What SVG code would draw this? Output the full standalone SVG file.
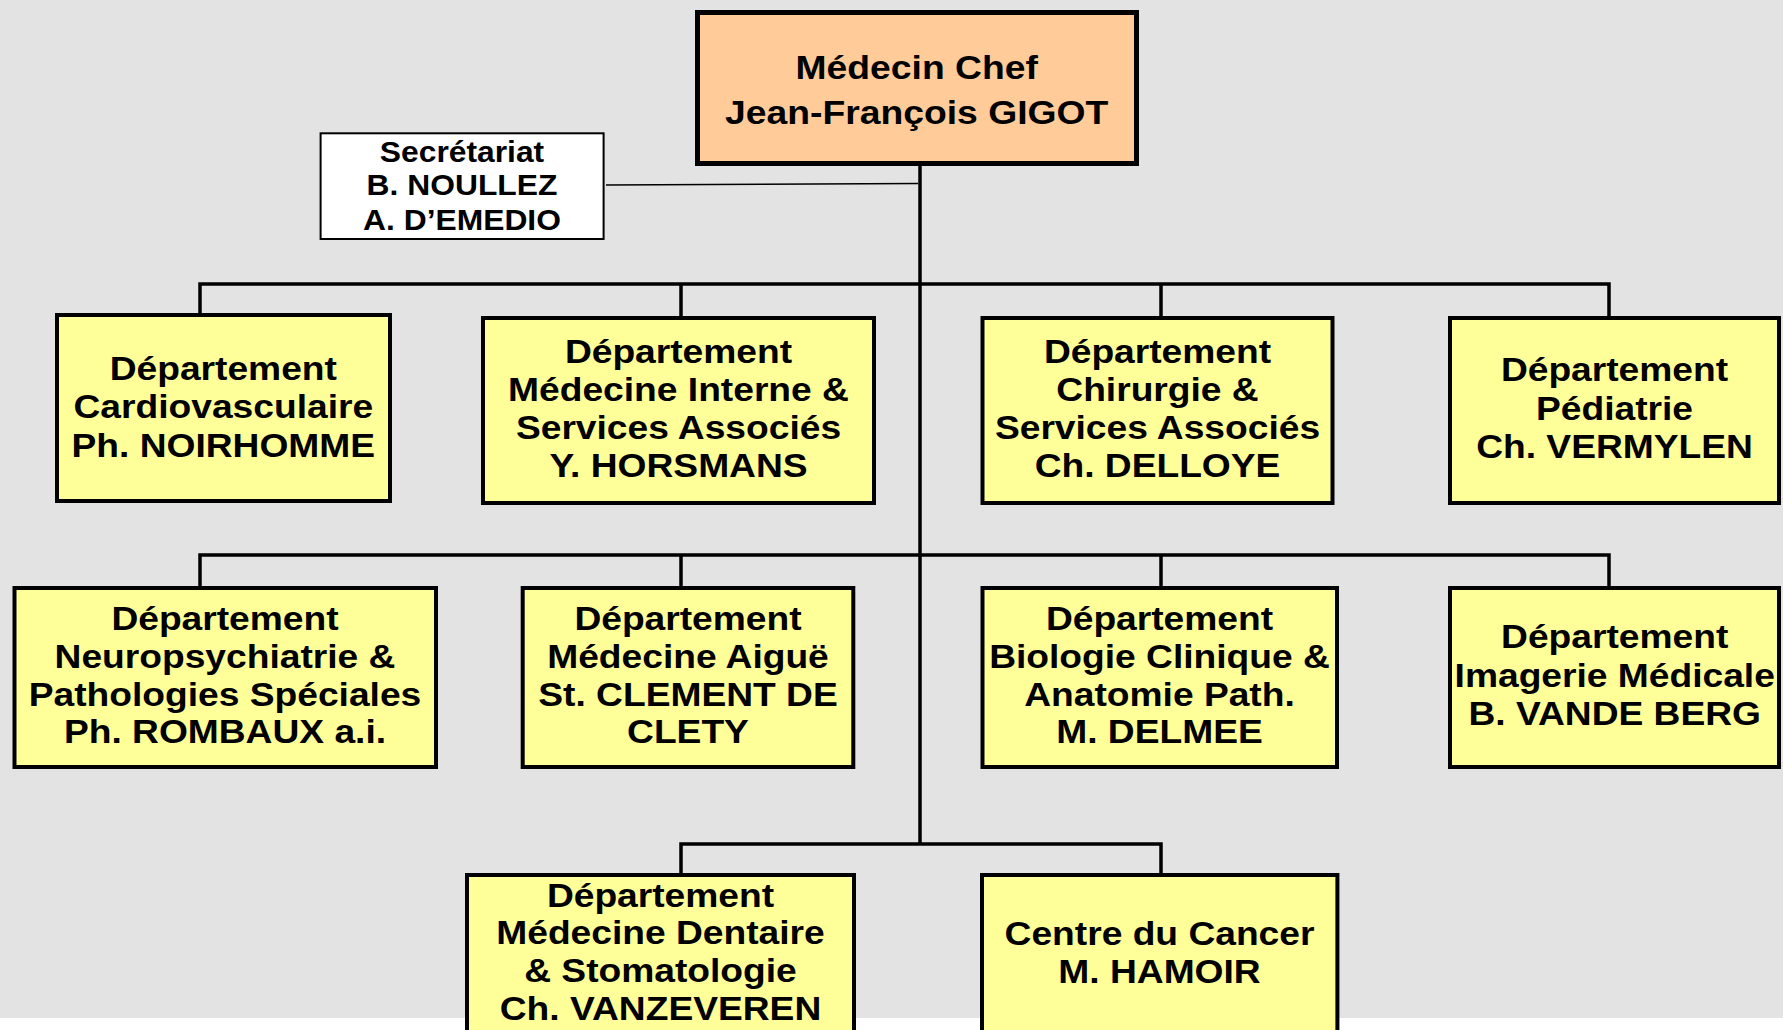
<svg xmlns="http://www.w3.org/2000/svg" width="1783" height="1030" viewBox="0 0 1783 1030">
<style>
.bg{fill:#E3E3E3}
.dept{fill:#FFFF99;stroke:#000;stroke-width:4}
.chief{fill:#FFCC99;stroke:#000;stroke-width:5}
.sec{fill:#FFFFFF;stroke:#000;stroke-width:2}
.ln{fill:none;stroke:#000;stroke-width:3.5}
.thin{fill:none;stroke:#000;stroke-width:1.6}
text{font-family:"Liberation Sans",Arial,sans-serif;font-weight:bold;fill:#000;text-anchor:middle}
.t{font-size:33.5px}
.tc{font-size:33px}
.ts{font-size:30px}
</style>
<rect x="0" y="0" width="1783" height="1030" fill="#FFFFFF"/>
<rect class="bg" x="0" y="0" width="1783" height="1018"/>

<g id="connectors">
  <line class="thin" x1="606" y1="185" x2="918" y2="183.5"/>
  <line class="ln" x1="920" y1="165" x2="920" y2="844"/>
  <polyline class="ln" points="200,314 200,284 1609,284 1609,317"/>
  <line class="ln" x1="681" y1="284" x2="681" y2="317"/>
  <line class="ln" x1="1161" y1="284" x2="1161" y2="317"/>
  <polyline class="ln" points="200,587 200,555 1609,555 1609,587"/>
  <line class="ln" x1="681" y1="555" x2="681" y2="587"/>
  <line class="ln" x1="1161" y1="555" x2="1161" y2="587"/>
  <polyline class="ln" points="681,874 681,844 1161,844 1161,874"/>
</g>

<g id="chief">
  <rect class="chief" x="697.5" y="12.5" width="439" height="151"/>
  <text class="tc" transform="matrix(1.13 0 0 1 916.7 0)"><tspan x="0" y="79">Médecin Chef</tspan><tspan x="0" y="124">Jean-François GIGOT</tspan></text>
</g>

<g id="secretariat">
  <rect class="sec" x="320.6" y="133.3" width="283" height="105.7"/>
  <text class="ts" transform="matrix(1.06 0 0 1 462 0)"><tspan x="0" y="161.7">Secrétariat</tspan><tspan x="0" y="195">B. NOULLEZ</tspan><tspan x="0" y="230">A. D’EMEDIO</tspan></text>
</g>

<g id="cardio">
  <rect class="dept" x="57" y="315" width="333" height="186"/>
  <text class="t" transform="matrix(1.11 0 0 1 223.3 0)"><tspan x="0" y="380">Département</tspan><tspan x="0" y="418.3">Cardiovasculaire</tspan><tspan x="0" y="456.7">Ph. NOIRHOMME</tspan></text>
</g>

<g id="medecine-interne">
  <rect class="dept" x="483" y="318" width="391" height="185"/>
  <text class="t" transform="matrix(1.11 0 0 1 678.5 0)"><tspan x="0" y="362.7">Département</tspan><tspan x="0" y="401">Médecine Interne &amp;</tspan><tspan x="0" y="439.3">Services Associés</tspan><tspan x="0" y="477">Y. HORSMANS</tspan></text>
</g>

<g id="chirurgie">
  <rect class="dept" x="982.5" y="318" width="350" height="185"/>
  <text class="t" transform="matrix(1.11 0 0 1 1157.5 0)"><tspan x="0" y="362.7">Département</tspan><tspan x="0" y="401">Chirurgie &amp;</tspan><tspan x="0" y="439.3">Services Associés</tspan><tspan x="0" y="477">Ch. DELLOYE</tspan></text>
</g>

<g id="pediatrie">
  <rect class="dept" x="1450" y="318" width="329" height="185"/>
  <text class="t" transform="matrix(1.11 0 0 1 1614.5 0)"><tspan x="0" y="381">Département</tspan><tspan x="0" y="419.7">Pédiatrie</tspan><tspan x="0" y="458.3">Ch. VERMYLEN</tspan></text>
</g>

<g id="neuropsychiatrie">
  <rect class="dept" x="14.5" y="588" width="421.5" height="179"/>
  <text class="t" transform="matrix(1.11 0 0 1 225 0)"><tspan x="0" y="630">Département</tspan><tspan x="0" y="667.8">Neuropsychiatrie &amp;</tspan><tspan x="0" y="705.6">Pathologies Spéciales</tspan><tspan x="0" y="743.4">Ph. ROMBAUX a.i.</tspan></text>
</g>

<g id="medecine-aigue">
  <rect class="dept" x="522.7" y="588" width="330.6" height="179"/>
  <text class="t" transform="matrix(1.11 0 0 1 688 0)"><tspan x="0" y="630">Département</tspan><tspan x="0" y="667.8">Médecine Aiguë</tspan><tspan x="0" y="705.6">St. CLEMENT DE</tspan><tspan x="0" y="743.4">CLETY</tspan></text>
</g>

<g id="biologie">
  <rect class="dept" x="982.5" y="588" width="354.5" height="179"/>
  <text class="t" transform="matrix(1.11 0 0 1 1159.5 0)"><tspan x="0" y="630">Département</tspan><tspan x="0" y="667.8">Biologie Clinique &amp;</tspan><tspan x="0" y="705.6">Anatomie Path.</tspan><tspan x="0" y="743.4">M. DELMEE</tspan></text>
</g>

<g id="imagerie">
  <rect class="dept" x="1450" y="588" width="329" height="179"/>
  <text class="t" transform="matrix(1.11 0 0 1 1614.7 0)"><tspan x="0" y="648.5">Département</tspan><tspan x="0" y="686.8">Imagerie Médicale</tspan><tspan x="0" y="725">B. VANDE BERG</tspan></text>
</g>

<g id="dentaire">
  <rect class="dept" x="467" y="875" width="387" height="200"/>
  <text class="t" transform="matrix(1.11 0 0 1 660.5 0)"><tspan x="0" y="906.7">Département</tspan><tspan x="0" y="944.4">Médecine Dentaire</tspan><tspan x="0" y="982.1">&amp; Stomatologie</tspan><tspan x="0" y="1019.8">Ch. VANZEVEREN</tspan></text>
</g>

<g id="cancer">
  <rect class="dept" x="982" y="875" width="355.4" height="200"/>
  <text class="t" transform="matrix(1.11 0 0 1 1159.5 0)"><tspan x="0" y="945">Centre du Cancer</tspan><tspan x="0" y="983">M. HAMOIR</tspan></text>
</g>
</svg>
